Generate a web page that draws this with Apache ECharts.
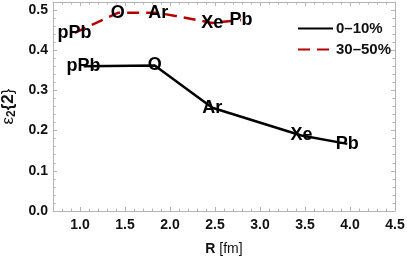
<!DOCTYPE html>
<html><head><meta charset="utf-8">
<script src="https://cdn.jsdelivr.net/npm/echarts@6/dist/echarts.min.js"></script>
<style>html,body{margin:0;padding:0;background:#fff}#c{width:407px;height:257px}</style>
</head><body><div id="c"></div>
<script>
// ---- data ----
var nuclei = ['pPb', 'O', 'Ar', 'Xe', 'Pb'];
var R_0_10 = [1.04, 1.83, 2.47, 3.46, 3.97];
var eps_0_10 = [0.360, 0.362, 0.257, 0.188, 0.167];
var R_30_50 = [0.94, 1.42, 1.87, 2.47, 2.79];
var eps_30_50 = [0.443, 0.493, 0.493, 0.468, 0.475];
var xTicks = [1.0, 1.5, 2.0, 2.5, 3.0, 3.5, 4.0, 4.5];
var yTicks = [0.0, 0.1, 0.2, 0.3, 0.4, 0.5];
var seriesNames = ['0\u201310%', '30\u201350%'];

var X_MIN = 0.7, X_MAX = 4.5, Y_MIN = 0, Y_MAX = 0.52;
function steps(a, b, s) { var r = []; for (var v = a; v <= b + 1e-9; v += s) r.push(Math.round(v * 100) / 100); return r; }
var xMinor = steps(0.7, 4.5, 0.1);
var yMinor = steps(0, 0.52, 0.02);

var FONT = '"Liberation Sans", Arial, sans-serif';
var FRAME = '#b4b4b4';

function pts(xs, ys) { return xs.map(function (x, i) { return { value: [x, ys[i]], name: nuclei[i] }; }); }

function xAx(pos, major, showLabel) {
  return {
    type: 'value', min: X_MIN, max: X_MAX, position: pos,
    axisLine: { show: major, onZero: false, lineStyle: { color: FRAME, width: 1 } },
    axisTick: { show: true, inside: true, length: major ? 4 : 2.5, customValues: major ? xTicks : xMinor, lineStyle: { color: FRAME } },
    axisLabel: showLabel ? { show: true, customValues: xTicks, formatter: function (v) { return v.toFixed(1); }, margin: 7, color: '#111', fontFamily: FONT, fontWeight: 'bold', fontSize: 14 } : { show: false },
    splitLine: { show: false }
  };
}
function yAx(pos, major, showLabel) {
  return {
    type: 'value', min: Y_MIN, max: Y_MAX, position: pos,
    axisLine: { show: major, onZero: false, lineStyle: { color: FRAME, width: 1 } },
    axisTick: { show: true, inside: true, length: major ? 4 : 2.5, customValues: major ? yTicks : yMinor, lineStyle: { color: FRAME } },
    axisLabel: showLabel ? { show: true, customValues: yTicks, formatter: function (v) { return v.toFixed(1); }, margin: 5, color: '#111', fontFamily: FONT, fontWeight: 'bold', fontSize: 14 } : { show: false },
    splitLine: { show: false }
  };
}

var xMain = xAx('bottom', true, true);
xMain.name = '{b|R} {n|[fm]}';
xMain.nameLocation = 'middle';
xMain.nameGap = 31;
xMain.nameTextStyle = { color: '#111', fontFamily: FONT, fontSize: 14, rich: { b: { fontWeight: 'bold', fontSize: 14, fontFamily: FONT, color: '#111' }, n: { fontSize: 14, fontFamily: FONT, color: '#111' } } };
var yMain = yAx('left', true, true);
yMain.name = '{e|\u03b5}{s|2}{b|\u007b2\u007d}';
yMain.nameLocation = 'middle';
yMain.nameGap = 33;
yMain.nameRotate = 90;
yMain.nameTextStyle = { color: '#111', fontFamily: FONT, fontSize: 17, rich: {
  e: { fontSize: 17, fontFamily: FONT, color: '#111' },
  b: { fontSize: 17, fontFamily: FONT, fontWeight: 'bold', color: '#111' },
  s: { fontSize: 12, fontFamily: FONT, fontWeight: 'bold', color: '#111', verticalAlign: 'bottom', padding: [6, 0, 0, 0] } } };

var lbl = { show: true, position: 'inside', formatter: '{b}', color: '#000', fontFamily: FONT, fontWeight: 'bold', fontSize: 18 };

var option = {
  animation: false,
  backgroundColor: '#fff',
  grid: { left: 53, right: 12, top: 2, bottom: 46, containLabel: false, outerBoundsMode: 'none' },
  xAxis: [xMain, xAx('bottom', false, false), xAx('top', true, false), xAx('top', false, false)],
  yAxis: [yMain, yAx('left', false, false), yAx('right', true, false), yAx('right', false, false)],
  legend: {
    orient: 'vertical', left: 292, top: 16, itemWidth: 35, itemHeight: 14, itemGap: 6,
    textStyle: { color: '#111', fontFamily: FONT, fontWeight: 'bold', fontSize: 15, padding: [0, 0, 0, -2] },
    data: seriesNames
  },
  series: [
    {
      name: seriesNames[0], type: 'line', xAxisIndex: 0, yAxisIndex: 0,
      data: pts(R_0_10, eps_0_10),
      symbol: 'circle', symbolSize: 2, showSymbol: true,
      itemStyle: { color: 'rgba(0,0,0,0)', borderWidth: 0 },
      lineStyle: { color: '#000', width: 2.5 },
      label: lbl, z: 3
    },
    {
      name: seriesNames[1], type: 'line', xAxisIndex: 0, yAxisIndex: 0,
      data: pts(R_30_50, eps_30_50),
      symbol: 'circle', symbolSize: 2, showSymbol: true,
      itemStyle: { color: 'rgba(0,0,0,0)', borderWidth: 0 },
      lineStyle: { color: '#b20000', width: 2.5, type: [12, 7] },
      label: lbl, z: 3
    }
  ]
};
var chart = echarts.init(document.getElementById('c'), null, { renderer: 'canvas' });
chart.setOption(option);
</script></body></html>
